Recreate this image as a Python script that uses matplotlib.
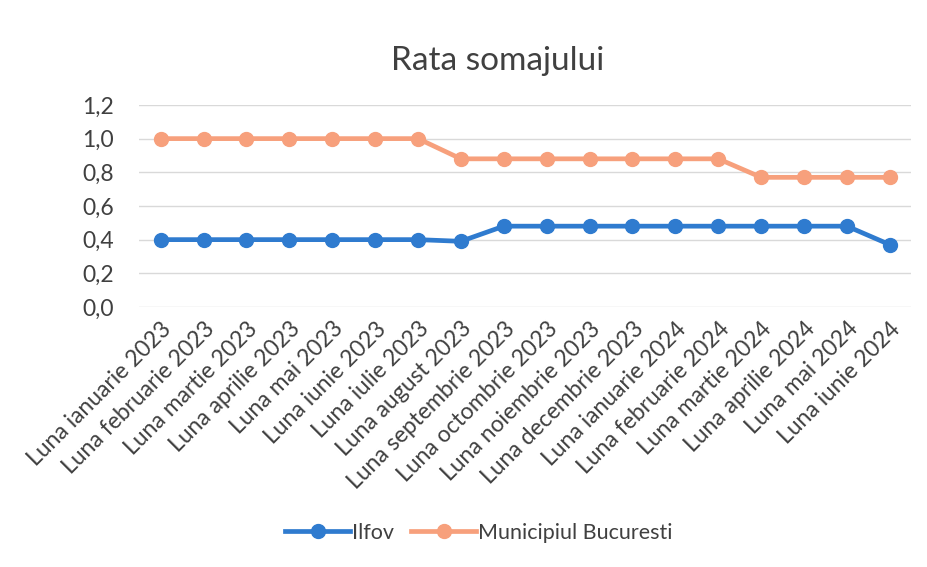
import matplotlib
matplotlib.use("Agg")
import matplotlib.pyplot as plt
from matplotlib.ticker import FuncFormatter

plt.rcParams['font.family'] = ['Lato', 'DejaVu Sans']

categories = ["Luna ianuarie 2023", "Luna februarie 2023", "Luna martie 2023",
              "Luna aprilie 2023", "Luna mai 2023", "Luna iunie 2023",
              "Luna iulie 2023", "Luna august 2023", "Luna septembrie 2023",
              "Luna octombrie 2023", "Luna noiembrie 2023", "Luna decembrie 2023",
              "Luna ianuarie 2024", "Luna februarie 2024", "Luna martie 2024",
              "Luna aprilie 2024", "Luna mai 2024", "Luna iunie 2024"]
ilfov = [0.40, 0.40, 0.40, 0.40, 0.40, 0.40, 0.40, 0.39, 0.48, 0.48,
         0.48, 0.48, 0.48, 0.48, 0.48, 0.48, 0.48, 0.37]
bucuresti = [1.00, 1.00, 1.00, 1.00, 1.00, 1.00, 1.00, 0.88, 0.88, 0.88,
             0.88, 0.88, 0.88, 0.88, 0.77, 0.77, 0.77, 0.77]
series_names = ["Ilfov", "Municipiul Bucuresti"]
yticks = [0.0, 0.2, 0.4, 0.6, 0.8, 1.0, 1.2]

blue = '#2F7BCF'
orange = '#F7A07C'

fig = plt.figure(figsize=(9.28, 5.67), dpi=100)
ax = fig.add_axes([0.150, 0.4586, 0.832, 0.3563])

x = range(len(categories))
ax.plot(x, ilfov, color=blue, lw=3.4, marker='o', ms=10, label=series_names[0])
ax.plot(x, bucuresti, color=orange, lw=3.4, marker='o', ms=10, label=series_names[1])

ax.set_xlim(-0.5, len(categories) - 0.5)
ax.set_ylim(0, 1.2)
ax.set_yticks(yticks)
ax.yaxis.set_major_formatter(FuncFormatter(lambda v, p: f"{v:.1f}".replace('.', ',')))
ax.set_xticks(list(x))
ax.set_xticklabels(categories, rotation=45, ha='right', rotation_mode='anchor')
ax.tick_params(axis='x', length=0, labelsize=16.5, colors='#404040', pad=8)
ax.tick_params(axis='y', length=0, labelsize=16.5, colors='#404040', pad=18)
ax.grid(axis='y', color='#D9D9D9', lw=1)
ax.set_axisbelow(True)
for s in ax.spines.values():
    s.set_visible(False)

fig.text(0.536, 0.893, "Rata somajului", ha='center', va='center', fontsize=24, color='#404040')

fig.legend(loc='center', bbox_to_anchor=(0.516, 0.06), ncol=2, frameon=False,
           fontsize=15.5, handlelength=3.0, columnspacing=0.8, handletextpad=0.1,
           labelcolor='#404040')

fig.savefig('out.png', dpi=100, facecolor='white')
